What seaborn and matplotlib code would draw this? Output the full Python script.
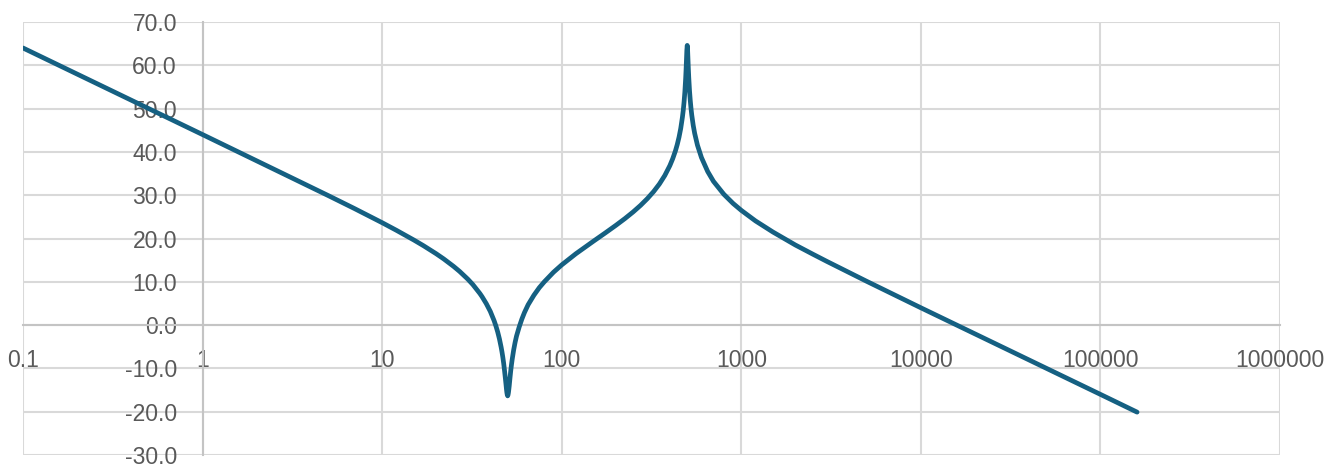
import matplotlib
matplotlib.use("Agg")
import matplotlib.pyplot as plt
import seaborn as sns
import pandas as pd
from matplotlib.ticker import FixedLocator, FixedFormatter, NullLocator

# Frequency points (log x-axis)
freq = [0.1, 1, 3, 5, 7, 10, 12, 15, 17, 20,
        22, 25, 27, 30, 32, 35, 36, 38, 40, 42,
        43, 44, 45, 46, 46.5, 47, 47.5, 48, 48.5, 49,
        49.25, 49.5, 49.75, 50, 50.25, 50.5, 50.75, 51, 51.5, 52,
        52.5, 53, 54, 55, 56, 58, 60, 62, 65, 70,
        75, 80, 90, 100, 120, 150, 175, 200, 225, 250,
        275, 300, 325, 350, 375, 400, 415, 430, 440, 450,
        460, 470, 475, 480, 485, 490, 492.5, 495, 497.5, 500,
        502.5, 505, 507.5, 510, 515, 520, 525, 530, 540, 550,
        570, 600, 650, 700, 800, 900, 1000, 1200, 1500, 2000,
        2500, 3000, 5000, 10000, 100000, 160000]

# Magnitude values (dB)
magnitude_db = [64.0, 44.0, 34.4, 29.93, 26.93, 23.65, 21.90, 19.66, 18.33, 16.48,
                15.30, 13.56, 12.40, 10.61, 9.36, 7.31, 6.57, 4.97, 3.19, 1.05,
                -0.19, -1.58, -3.2, -5.12, -6.21, -7.43, -8.81, -10.4, -12.11, -13.9,
                -14.84, -15.6, -16.11, -16.35, -16.10, -15.6, -14.87, -14.1, -12.27, -10.6,
                -9.16, -7.9, -5.74, -4.0, -2.56, -0.4, 1.4, 2.89, 4.7, 6.9,
                8.64, 10.0, 12.21, 13.9, 16.49, 19.36, 21.30, 23.02, 24.61, 26.14,
                27.66, 29.22, 30.84, 32.59, 34.55, 36.82, 38.42, 40.26, 41.71, 43.39,
                45.41, 48.0, 49.56, 51.48, 53.86, 56.98, 58.94, 61.2, 63.47, 64.6,
                63.5, 61.26, 59.04, 57.13, 54.09, 51.81, 50.0, 48.49, 46.12, 44.29,
                41.56, 38.7, 35.47, 33.2, 30.2, 28.10, 26.5, 24.06, 21.5, 18.5,
                16.39, 14.7, 10.1, 4.0, -16.0, -20.1]

x_ticks = [0.1, 1, 10, 100, 1000, 10000, 100000, 1000000]
x_tick_labels = ["0.1", "1", "10", "100", "1000", "10000", "100000", "1000000"]
y_ticks = [-30, -20, -10, 0, 10, 20, 30, 40, 50, 60, 70]
y_tick_labels = ["-30.0", "-20.0", "-10.0", "0.0", "10.0", "20.0", "30.0",
                 "40.0", "50.0", "60.0", "70.0"]

sns.set_style("white")
plt.rcParams['font.family'] = ['Liberation Sans', 'DejaVu Sans']

W, H = 1342, 465
fig = plt.figure(figsize=(W / 100, H / 100), dpi=100)
ax = fig.add_axes([23 / W, 10 / H, 1257 / W, 433 / H])

df = pd.DataFrame({"freq": freq, "mag": magnitude_db})
sns.lineplot(data=df, x="freq", y="mag", ax=ax, color="#156082",
             linewidth=3.4, sort=False, zorder=3,
             solid_joinstyle="round", solid_capstyle="round")

ax.set_xscale("log")
ax.set_xlim(0.1, 1e6)
ax.set_ylim(-30, 70)
ax.set_xlabel("")
ax.set_ylabel("")

ax.xaxis.set_major_locator(FixedLocator(x_ticks))
ax.xaxis.set_major_formatter(FixedFormatter(x_tick_labels))
ax.xaxis.set_minor_locator(NullLocator())
ax.yaxis.set_major_locator(FixedLocator(y_ticks))
ax.yaxis.set_major_formatter(FixedFormatter(y_tick_labels))
ax.yaxis.set_minor_locator(NullLocator())

ax.set_axisbelow(True)
ax.grid(True, which="major", color="#d9d9d9", linewidth=1.5)
for gl in ax.get_xgridlines() + ax.get_ygridlines():
    gl.set_clip_on(False)

for s in ["top", "right"]:
    ax.spines[s].set_visible(False)
ax.spines["left"].set_position(("data", 1))
ax.spines["bottom"].set_position(("data", 0))
for s in ["left", "bottom"]:
    ax.spines[s].set_color("#c4c4c4")
    ax.spines[s].set_linewidth(1.5)

ax.tick_params(axis="x", length=0, pad=17, labelsize=16.5, colors="#595959")
ax.tick_params(axis="y", length=0, pad=18.5, labelsize=16.5, colors="#595959")

fig.savefig("out.png", dpi=100, facecolor="white")
